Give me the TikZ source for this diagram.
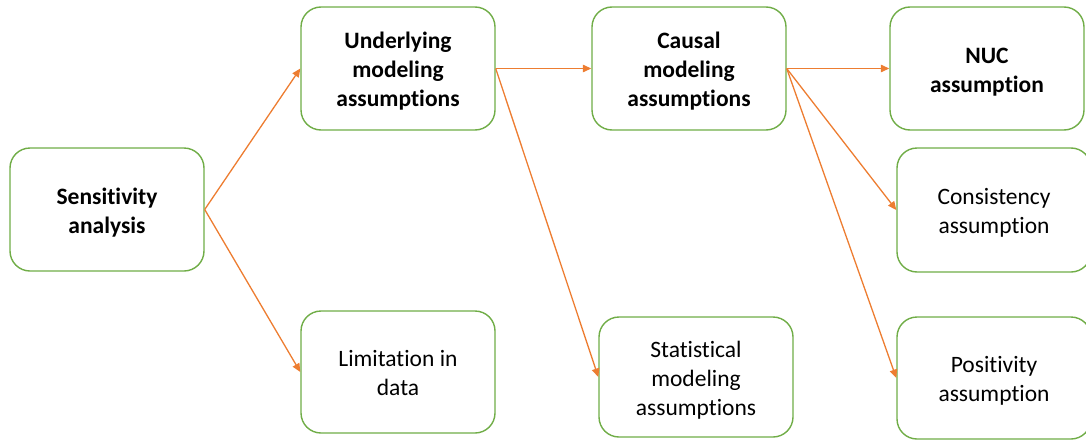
\documentclass[tikz,border=0pt]{standalone}
\usepackage{fontspec}
\setmainfont{Carlito}[Ligatures={NoCommon}]
\usetikzlibrary{arrows.meta}
\definecolor{boxgreen}{HTML}{70AD47}
\definecolor{arrorange}{HTML}{ED7D31}
\newcommand\boxtext[1]{\raisebox{-3.5pt}[\height][\depth]{\begin{tabular}{@{}c@{}}#1\end{tabular}}}
\tikzset{
  box/.style={draw=boxgreen, line width=1.4pt, rounded corners=20pt, fill=white,
    minimum width=194pt, minimum height=123pt, align=center, inner sep=0pt,
    font=\fontsize{23.5}{29}\selectfont},
  boldbox/.style={box, font=\fontsize{23.5}{29}\selectfont\bfseries},
  conn/.style={draw=arrorange, line width=1.3pt, -{Triangle[length=8.5pt,width=7.5pt]}}
}
\begin{document}
\begin{tikzpicture}[x=1pt,y=-1pt]
\useasboundingbox (0,0) rectangle (1086,439);
\node[boldbox] (sens) at (107,209.5) {\boxtext{Sensitivity\\analysis}};
\node[boldbox] (under) at (398,68.5) {\boxtext{Underlying\\modeling\\assumptions}};
\node[box, minimum height=122pt] (limit) at (398,372) {\boxtext{Limitation in\\data}};
\node[boldbox] (causal) at (689,68.5) {\boxtext{Causal\\modeling\\assumptions}};
\node[box, minimum height=120pt] (stat) at (696,377) {\boxtext{Statistical\\modeling\\assumptions}};
\node[boldbox] (nuc) at (987,68.5) {\boxtext{NUC\\assumption}};
\node[box, minimum height=124pt] (cons) at (994,210) {\boxtext{Consistency\\assumption}};
\node[box, minimum height=122pt] (pos) at (994,378) {\boxtext{Positivity\\assumption}};
\draw[conn] (sens.east) -- (under.west);
\draw[conn] (sens.east) -- (limit.west);
\draw[conn] (under.east) -- (causal.west);
\draw[conn] (under.east) -- (stat.west);
\draw[conn] (causal.east) -- (nuc.west);
\draw[conn] (causal.east) -- (cons.west);
\draw[conn] (causal.east) -- (pos.west);
\end{tikzpicture}
\end{document}
